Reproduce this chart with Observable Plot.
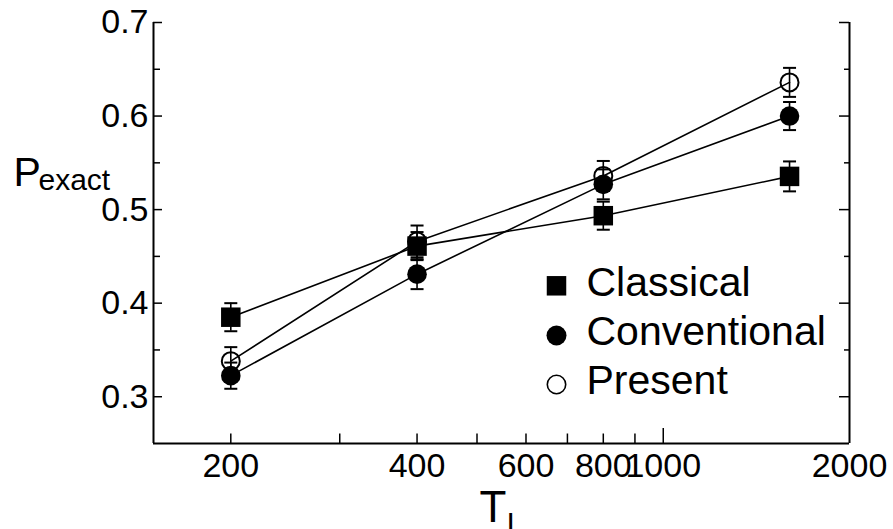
<!DOCTYPE html>
<html>
<head>
<meta charset="utf-8">
<script src="https://cdn.jsdelivr.net/npm/d3@7"></script>
<script src="https://cdn.jsdelivr.net/npm/@observablehq/plot@0.6"></script>
<style>
  html, body { margin: 0; padding: 0; background: white; }
  #chart svg { display: block; }
</style>
</head>
<body>
<div id="chart"></div>
<script>
// ---- data ----
const xValues = [200, 400, 800, 1600];
const seriesNames = ["Classical", "Conventional", "Present"];
const classicalP = [0.385, 0.461, 0.4935, 0.5355];
const classicalErr = [0.015, 0.015, 0.015, 0.016];
const conventionalP = [0.3225, 0.431, 0.527, 0.600];
const conventionalErr = [0.014, 0.016, 0.016, 0.015];
const presentP = [0.338, 0.466, 0.536, 0.636];
const presentErr = [0.015, 0.017, 0.016, 0.0155];

const xTickLabels = [200, 400, 600, 800, 1000, 2000];
const xMinorTicks = [200, 300, 400, 500, 600, 700, 800, 900];
const xLongTicks = [1000];
const yTickLabels = [0.3, 0.4, 0.5, 0.6, 0.7];
const yMinorTicks = [0.35, 0.45, 0.55, 0.65];
const xDomain = [150, 2000];
const yDomain = [0.25, 0.7];

// ---- build table ----
const valuesBySeries = {Classical: classicalP, Conventional: conventionalP, Present: presentP};
const errBySeries = {Classical: classicalErr, Conventional: conventionalErr, Present: presentErr};
const rows = seriesNames.flatMap(s => xValues.map((x, i) => ({series: s, x, p: valuesBySeries[s][i], e: errBySeries[s][i]})));
const bySeries = s => rows.filter(d => d.series === s);

const W = 893, H = 529;
const mL = 153, mR = 44, mT = 22, mB = 86;
const innerW = W - mL - mR, innerH = H - mT - mB;

const capSymbol = {
  draw(context) { context.moveTo(-6.5, 0); context.lineTo(6.5, 0); }
};

const markerStyles = {
  Classical: {symbol: "square", r: 11, fill: "black", stroke: "none"},
  Conventional: {symbol: "circle", r: 9.8, fill: "black", stroke: "none"},
  Present: {symbol: "circle", r: 9, fill: "none", stroke: "black", strokeWidth: 2}
};

const legendMarks = seriesNames.flatMap((s, i) => {
  const legendSym = {
    Classical: {symbol: "square", r: 5.7, fill: "black", stroke: "none"},
    Conventional: {symbol: "circle", r: 10, fill: "black", stroke: "none"},
    Present: {symbol: "circle", r: 9.2, fill: "none", stroke: "black", strokeWidth: 1.6}
  }[s];
  const symDy = [263.3, 313, 362][i];
  const textDy = [273, 322, 371][i];
  return [
    Plot.dot([s], {frameAnchor: "top-left", dx: 403, dy: symDy, ...legendSym, r: s === "Classical" ? 11 : legendSym.r}),
    Plot.text([s], {frameAnchor: "top-left", dx: 433, dy: textDy, text: d => d, textAnchor: "start", lineAnchor: "bottom", fontSize: 41, fill: "black"})
  ];
});

const chart = Plot.plot({
  width: W, height: H,
  marginLeft: mL, marginRight: mR, marginTop: mT, marginBottom: mB,
  x: {type: "log", domain: xDomain},
  y: {domain: yDomain},
  style: {fontFamily: "'Liberation Sans', Arial, sans-serif", background: "white", color: "black"},
  marks: [
    // frame: left, right, bottom
    Plot.ruleX([xDomain[0], xDomain[1]], {stroke: "black", strokeWidth: 2}),
    Plot.ruleY([yDomain[0]], {stroke: "black", strokeWidth: 2}),
    // inward ticks
    Plot.ruleX(xMinorTicks, {insetTop: innerH - 9.5, stroke: "black", strokeWidth: 1.5}),
    Plot.ruleX(xLongTicks, {insetTop: innerH - 15, stroke: "black", strokeWidth: 1.5}),
    Plot.ruleY(yTickLabels, {insetRight: innerW - 9, stroke: "black", strokeWidth: 1.5}),
    Plot.ruleY(yMinorTicks, {insetRight: innerW - 7, stroke: "black", strokeWidth: 1.5}),
    Plot.ruleY(yTickLabels, {insetLeft: innerW - 10, stroke: "black", strokeWidth: 1.5}),
    Plot.ruleY(yMinorTicks, {insetLeft: innerW - 5, stroke: "black", strokeWidth: 1.5}),
    // tick labels
    Plot.axisX(xTickLabels, {tickSize: 0, tickPadding: 9, fontSize: 34, tickFormat: d => String(d), label: null, fill: "black"}),
    Plot.axisY(yTickLabels, {tickSize: 0, tickPadding: 5, fontSize: 34, tickFormat: d3.format(".1f"), label: null, fill: "black"}),
    // axis titles with subscripts
    Plot.text(["P"], {frameAnchor: "top-left", dx: 13 - mL, dy: 185 - mT, text: d => d, textAnchor: "start", lineAnchor: "bottom", fontSize: 41, fill: "black"}),
    Plot.text(["exact"], {frameAnchor: "top-left", dx: 38 - mL, dy: 189 - mT, text: d => d, textAnchor: "start", lineAnchor: "bottom", fontSize: 30, fill: "black"}),
    Plot.text(["T"], {frameAnchor: "bottom", dx: 479 - (mL + innerW / 2), dy: 521 - (H - mB), text: d => d, textAnchor: "start", lineAnchor: "bottom", fontSize: 44, fill: "black"}),
    Plot.text(["I"], {frameAnchor: "bottom", dx: 506 - (mL + innerW / 2), dy: 532 - (H - mB), text: d => d, textAnchor: "start", lineAnchor: "bottom", fontSize: 30, fill: "black"}),
    // connecting lines
    Plot.line(rows, {x: "x", y: "p", z: "series", stroke: "black", strokeWidth: 1.6}),
    // error bars
    Plot.ruleX(rows, {x: "x", y1: d => d.p - d.e, y2: d => d.p + d.e, stroke: "black", strokeWidth: 1.6}),
    Plot.dot(rows, {x: "x", y: d => d.p - d.e, symbol: capSymbol, stroke: "black", fill: "none", strokeWidth: 2}),
    Plot.dot(rows, {x: "x", y: d => d.p + d.e, symbol: capSymbol, stroke: "black", fill: "none", strokeWidth: 2}),
    // markers
    ...["Present", "Conventional", "Classical"].map(s => Plot.dot(bySeries(s), {x: "x", y: "p", ...markerStyles[s]})),
    // legend
    ...legendMarks
  ]
});
document.getElementById("chart").appendChild(chart);
</script>
</body>
</html>
